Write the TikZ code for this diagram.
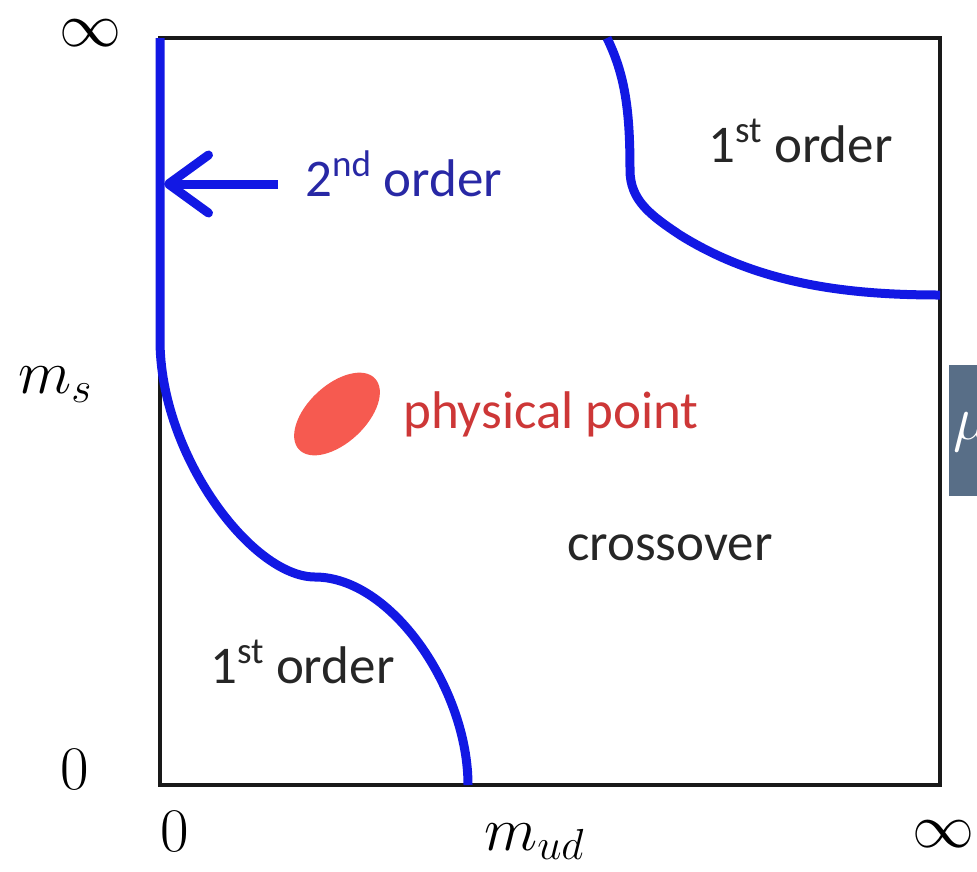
\RequirePackage{fix-cm}
\documentclass[tikz,border=0pt]{standalone}
\usepackage{fontspec}
\newfontfamily\slidefont{Carlito}
\usetikzlibrary{arrows.meta,shapes.geometric}
\definecolor{lineblue}{RGB}{18,24,228}
\definecolor{labelblue}{RGB}{40,40,165}
\definecolor{pointred}{RGB}{246,90,80}
\definecolor{labelred}{RGB}{205,55,55}
\definecolor{slate}{RGB}{88,110,135}

\begin{document}
\begin{tikzpicture}[x=1pt,y=-1pt,>={Straight Barb[length=40pt,width=58pt,round]}]
  % Styles
  \tikzstyle{frame} = [draw=black!90, line width=4pt]
  \tikzstyle{phase} = [draw=lineblue, line width=9pt]
  \tikzstyle{label} = [inner sep=0pt, anchor=base west, font=\slidefont\fontsize{53}{60}\selectfont]
  \tikzstyle{axis} = [inner sep=0pt, font=\fontsize{62}{70}\selectfont]

  \useasboundingbox (0,0) rectangle (977,871);
  \clip (0,0) rectangle (977,871);

  % Corners and curve ends
  \coordinate (tl) at (160,38);
  \coordinate (br) at (940,785);
  \coordinate (kink) at (160,340);
  \coordinate (saddle) at (315,577);
  \coordinate (lowend) at (468,785);
  \coordinate (topend) at (607,38);
  \coordinate (bend) at (630,170);
  \coordinate (elbow) at (680,235);
  \coordinate (rightend) at (940,295);
  \coordinate (arrowtail) at (278,184);
  \coordinate (arrowtip) at (164,184);

  % Box
  \draw[frame] (tl) rectangle (br);

  % Side panel
  \fill[slate] (949,365) rectangle (990,496);
  \node[axis, text=white, anchor=west] (mupart) at (953,432) {$\mu$};

  % Axis labels
  \node[axis] (inftop) at (90,33) {$\infty$};
  \node[axis, anchor=base west] (ms) at (18,393) {$m_s$};
  \node[axis] (zeroleft) at (75,770) {$0$};
  \node[axis] (zerobottom) at (175,832) {$0$};
  \node[axis, anchor=base west] (mud) at (484,850) {$m_{ud}$};
  \node[axis] (infright) at (943,834) {$\infty$};

  % Physical point
  \node[ellipse, fill=pointred, inner sep=0pt, minimum width=104pt, minimum height=58pt, rotate=43] (physpt) at (337,414) {};
  \node[label, text=labelred] (physlabel) at (403,428) {physical point};

  % Region labels
  \node[label, text=labelblue] (second) at (305,196) {2\textsuperscript{nd} order};
  \node[label, text=black!85] (firsttop) at (708,162) {1\textsuperscript{st} order};
  \node[label, text=black!85] (cross) at (567,560) {crossover};
  \node[label, text=black!85] (firstbot) at (210,683) {1\textsuperscript{st} order};

  % Phase boundaries
  \draw[phase] (tl) -- (kink) .. controls (160,455) and (252,577) .. (saddle)
    .. controls (392,577) and (468,690) .. (lowend);
  \draw[phase] (topend) .. controls (625,75) and (630,110) .. (bend)
    .. controls (630,200) and (650,215) .. (elbow)
    .. controls (760,285) and (850,295) .. (rightend);
  \draw[phase, ->] (arrowtail) -- (arrowtip);

\end{tikzpicture}
\end{document}
